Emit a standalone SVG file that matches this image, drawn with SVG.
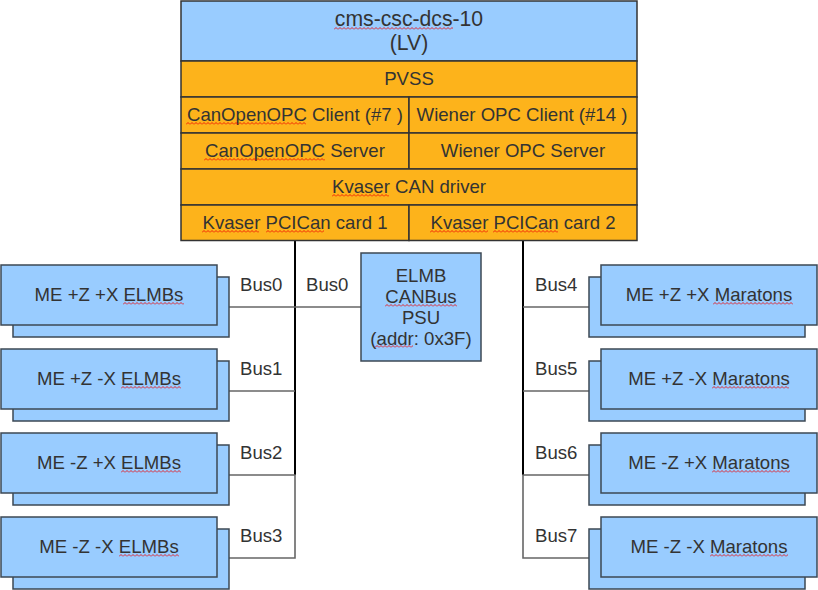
<svg xmlns="http://www.w3.org/2000/svg" width="818" height="590" viewBox="0 0 818 590">
<defs>
<style>
.t{font-family:"Liberation Sans",Arial,sans-serif;font-size:18.6px;fill:#333;text-anchor:middle}
.h{font-family:"Liberation Sans",Arial,sans-serif;font-size:21.2px;fill:#333;text-anchor:middle}
.tl{font-family:"Liberation Sans",Arial,sans-serif;font-size:18.6px;fill:#333}
.b{fill:#99ccff;stroke:#3d4854;stroke-width:1.5}
.o{fill:#fdb31b;stroke:#333;stroke-width:1.5}
.hb{fill:#99ccff;stroke:#333;stroke-width:1.5}
.c{fill:none;stroke:#666;stroke-width:1.6}
.k{fill:none;stroke:#000;stroke-width:2}
.sq{fill:url(#sq)}
</style>
<pattern id="sq" width="4" height="3" patternUnits="userSpaceOnUse">
<path d="M0,2.5 L2,0.5 L4,2.5" fill="none" stroke="#e00" stroke-width="0.8"/>
</pattern>
</defs>
<rect width="818" height="590" fill="#fff"/>

<g id="connectors">
<path class="k" d="M295,240 V475"/>
<path class="k" d="M523,240 V475"/>
<path class="c" d="M229,307 H361"/>
<path class="c" d="M229,391 H295"/>
<path class="c" d="M229,475 H295 V558 H229"/>
<path class="c" d="M589,307 H523"/>
<path class="c" d="M589,391 H523"/>
<path class="c" d="M589,475 H523 V558 H589"/>
<text class="tl" x="240" y="291">Bus0</text>
<text class="tl" x="306" y="291">Bus0</text>
<text class="tl" x="240" y="375">Bus1</text>
<text class="tl" x="240" y="459">Bus2</text>
<text class="tl" x="240" y="542">Bus3</text>
<text class="tl" x="535" y="291">Bus4</text>
<text class="tl" x="535" y="375">Bus5</text>
<text class="tl" x="535" y="459">Bus6</text>
<text class="tl" x="535" y="542">Bus7</text>
</g>

<g id="host">
<rect class="hb" x="181" y="1" width="456" height="60"/>
<text class="h" x="409" y="26">cms-csc-dcs-10</text>
<text class="h" x="409" y="50">(LV)</text>
<rect class="sq" x="0" y="0" width="119" height="3" transform="translate(334,27)"/>
</g>
<g id="pvss">
<rect class="o" x="181" y="61" width="456" height="36"/>
<text class="t" x="409" y="85">PVSS</text>
</g>
<g id="canopen-client">
<rect class="o" x="181" y="97" width="228" height="36"/>
<text class="t" x="295" y="121">CanOpenOPC Client (#7 )</text>
<rect class="sq" x="0" y="0" width="120" height="3" transform="translate(186,122)"/>
</g>
<g id="wiener-client">
<rect class="o" x="409" y="97" width="228" height="36"/>
<text class="t" x="522" y="121">Wiener OPC Client (#14 )</text>
</g>
<g id="canopen-server">
<rect class="o" x="181" y="133" width="228" height="36"/>
<text class="t" x="295" y="157">CanOpenOPC Server</text>
<rect class="sq" x="0" y="0" width="121" height="3" transform="translate(204,158)"/>
</g>
<g id="wiener-server">
<rect class="o" x="409" y="133" width="228" height="36"/>
<text class="t" x="523" y="157">Wiener OPC Server</text>
</g>
<g id="kvaser-driver">
<rect class="o" x="181" y="169" width="456" height="36"/>
<text class="t" x="409" y="193">Kvaser CAN driver</text>
<rect class="sq" x="0" y="0" width="57" height="3" transform="translate(332,194)"/>
</g>
<g id="card1">
<rect class="o" x="181" y="205" width="228" height="35.5"/>
<text class="t" x="295" y="229">Kvaser PCICan card 1</text>
<rect class="sq" x="0" y="0" width="57" height="3" transform="translate(202,230)"/>
<rect class="sq" x="0" y="0" width="58" height="3" transform="translate(266,230)"/>
</g>
<g id="card2">
<rect class="o" x="409" y="205" width="228" height="35.5"/>
<text class="t" x="523" y="229">Kvaser PCICan card 2</text>
<rect class="sq" x="0" y="0" width="58" height="3" transform="translate(430,230)"/>
<rect class="sq" x="0" y="0" width="65" height="3" transform="translate(493,230)"/>
</g>

<g id="psu">
<rect class="b" x="361" y="253" width="120" height="108"/>
<text class="t" x="421" y="282">ELMB</text>
<text class="t" x="421" y="303">CANBus</text>
<text class="t" x="421" y="324">PSU</text>
<text class="t" x="421" y="345">(addr: 0x3F)</text>
<rect class="sq" x="0" y="0" width="72" height="3" transform="translate(385,304)"/>
<rect class="sq" x="0" y="0" width="38" height="3" transform="translate(375,345)"/>
</g>

<g id="elmb-pzpx">
<rect class="b" x="13" y="277" width="216" height="60"/>
<rect class="b" x="1" y="265" width="216" height="60"/>
<text class="t" x="109" y="301">ME +Z +X ELMBs</text>
<rect class="sq" x="0" y="0" width="61" height="3" transform="translate(123,302)"/>
</g>
<g id="elmb-pzmx">
<rect class="b" x="13" y="361" width="216" height="60"/>
<rect class="b" x="1" y="349" width="216" height="60"/>
<text class="t" x="109" y="385">ME +Z -X ELMBs</text>
<rect class="sq" x="0" y="0" width="60" height="3" transform="translate(121,386)"/>
</g>
<g id="elmb-mzpx">
<rect class="b" x="13" y="445" width="216" height="60"/>
<rect class="b" x="1" y="433" width="216" height="60"/>
<text class="t" x="109" y="469">ME -Z +X ELMBs</text>
<rect class="sq" x="0" y="0" width="60" height="3" transform="translate(121,470)"/>
</g>
<g id="elmb-mzmx">
<rect class="b" x="13" y="529" width="216" height="60"/>
<rect class="b" x="1" y="517" width="216" height="60"/>
<text class="t" x="109" y="553">ME -Z -X ELMBs</text>
<rect class="sq" x="0" y="0" width="60" height="3" transform="translate(119,554)"/>
</g>

<g id="maraton-pzpx">
<rect class="b" x="589" y="277" width="216" height="60"/>
<rect class="b" x="601" y="265" width="216" height="60"/>
<text class="t" x="709" y="301">ME +Z +X Maratons</text>
<rect class="sq" x="0" y="0" width="80" height="3" transform="translate(713,302)"/>
</g>
<g id="maraton-pzmx">
<rect class="b" x="589" y="361" width="216" height="60"/>
<rect class="b" x="601" y="349" width="216" height="60"/>
<text class="t" x="709" y="385">ME +Z -X Maratons</text>
<rect class="sq" x="0" y="0" width="77" height="3" transform="translate(712,386)"/>
</g>
<g id="maraton-mzpx">
<rect class="b" x="589" y="445" width="216" height="60"/>
<rect class="b" x="601" y="433" width="216" height="60"/>
<text class="t" x="709" y="469">ME -Z +X Maratons</text>
<rect class="sq" x="0" y="0" width="78" height="3" transform="translate(712,470)"/>
</g>
<g id="maraton-mzmx">
<rect class="b" x="589" y="529" width="216" height="60"/>
<rect class="b" x="601" y="517" width="216" height="60"/>
<text class="t" x="709" y="553">ME -Z -X Maratons</text>
<rect class="sq" x="0" y="0" width="78" height="3" transform="translate(710,554)"/>
</g>
</svg>
